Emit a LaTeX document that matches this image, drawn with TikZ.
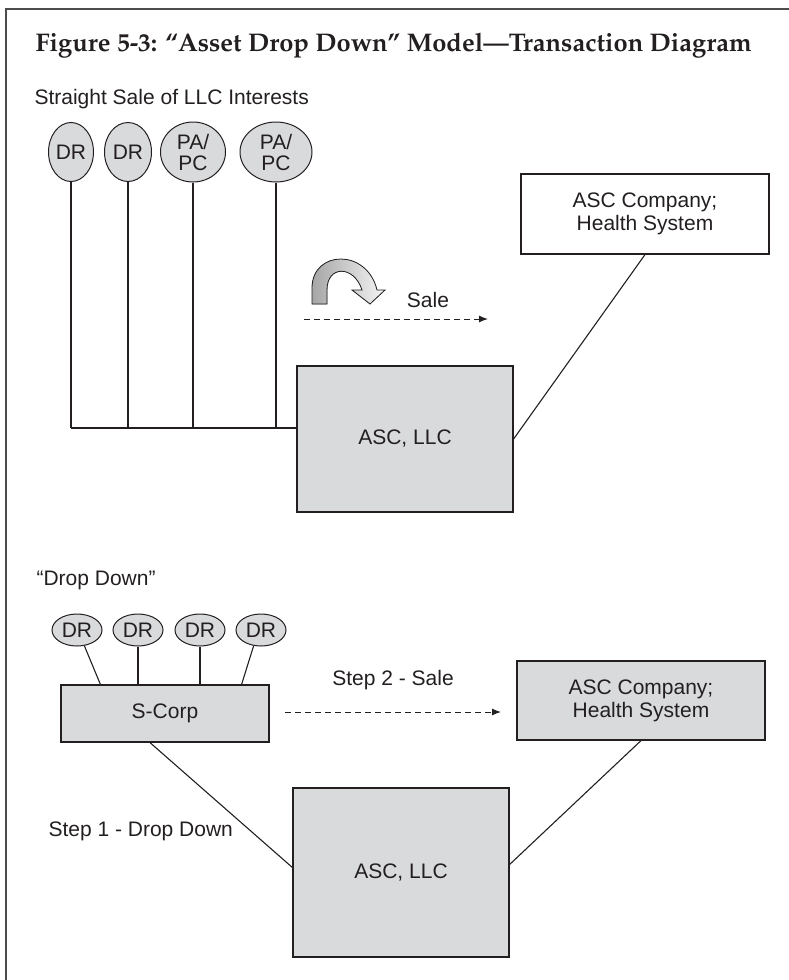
\documentclass[tikz,border=0pt]{standalone}
\usepackage{fontspec}
\setsansfont{Liberation Sans}
\usepackage{tikz}
\usetikzlibrary{shapes.geometric,arrows.meta}
\definecolor{boxgray}{RGB}{217,218,220}
\definecolor{ink}{RGB}{35,31,32}
\newcommand{\titlefont}{\fontencoding{OT1}\fontfamily{ppl}\fontseries{b}\selectfont}

\begin{document}
\begin{tikzpicture}[x=1pt,y=-1pt,
  every node/.style={font=\sffamily\fontsize{21}{23}\selectfont, text=ink},
  person/.style={ellipse, draw=ink, fill=boxgray, line width=1pt, inner sep=0pt, align=center,
    font=\sffamily\fontsize{21}{21}\selectfont},
  firm/.style={rectangle, draw=ink, fill=boxgray, line width=1.2pt, align=center},
  buyer/.style={rectangle, draw=ink, fill=white, line width=1.2pt, align=center},
  link/.style={draw=ink, line width=1.1pt},
  sale/.style={draw=ink, line width=1pt, dash pattern=on 6pt off 4pt, -{Latex[length=9pt,width=7pt]}}]
\useasboundingbox (0,0) rectangle (789,980);
\draw[black!70, line width=1.5pt] (6,980) -- (6,9) -- (789,9);

\node[anchor=base west, font=\titlefont\fontsize{25.5}{27}\selectfont] (title) at (32,51)
  {Figure 5-3: ``Asset Drop Down'' Model---Transaction Diagram};

\node[anchor=west] (upper) at (31,99) {Straight Sale of LLC Interests};
\node[person, minimum width=45pt, minimum height=59pt] (dra) at (71,152) {DR};
\node[person, minimum width=47pt, minimum height=59pt] (drb) at (128,152) {DR};
\node[person, minimum width=65pt, minimum height=60pt] (pca) at (193,152) {PA/\\PC};
\node[person, minimum width=72pt, minimum height=60pt] (pcb) at (276,152) {PA/\\PC};

\node[firm, minimum width=216pt, minimum height=146pt] (llc) at (405,439) {ASC, LLC};
\node[buyer, minimum width=248pt, minimum height=80pt] (asc) at (645,214) {ASC Company;\\Health System};

\coordinate (bus) at (0,428);
\foreach \p in {dra,drb,pca,pcb}
  \draw[link] (\p.south) -- (\p.south |- bus);
\draw[link] (dra.south |- bus) -- (llc.west |- bus);
\draw[link] (asc.south) -- (llc.east);

\filldraw[draw=ink, line width=0.8pt, left color=gray!70, right color=gray!8]
  (312,304) -- (312,288) .. controls (312,250) and (367,248) .. (377,290)
  -- (385,290) -- (370,304) -- (352,290) -- (362,290)
  .. controls (354,265) and (327,265) .. (327,290) -- (327,304) -- cycle;
\coordinate (sa) at (304,319);
\coordinate (sb) at (488,319);
\draw[sale] (sa) -- (sb);
\node (saletext) at (428,300) {Sale};

\node[anchor=west] (lower) at (33,580) {``Drop Down''};
\foreach \i/\x in {1/77,2/138,3/200,4/261}
  \node[person, minimum width=50pt, minimum height=32pt] (d\i) at (\x,630) {DR};
\node[firm, minimum width=208pt, minimum height=57pt] (scorp) at (165,713.5) {S-Corp};
\draw[link] (d1.-65) -- ([xshift=40pt]scorp.north west);
\draw[link] (d2.south) -- (d2.south |- scorp.north);
\draw[link] (d3.south) -- (d3.south |- scorp.north);
\draw[link] (d4.-115) -- ([xshift=-28pt]scorp.north east);

\node[firm, minimum width=248pt, minimum height=79pt] (ascb) at (641,700.5) {ASC Company;\\Health System};
\node[firm, minimum width=216pt, minimum height=169pt] (llcb) at (401,872.5) {ASC, LLC};

\coordinate (sc) at (285,712);
\coordinate (sd) at (501,712);
\draw[sale] (sc) -- (sd);
\node[anchor=base] (steptwo) at (393,685) {Step 2 - Sale};

\draw[link] ([xshift=-15pt]scorp.south) -- ([yshift=5pt]llcb.west);
\draw[link] (ascb.south) -- ([yshift=8pt]llcb.east);
\node[anchor=base west] (stepone) at (45,836) {Step 1 - Drop Down};
\end{tikzpicture}
\end{document}
